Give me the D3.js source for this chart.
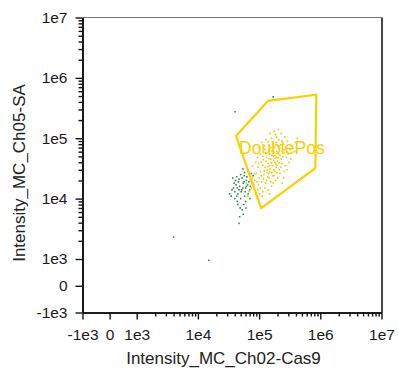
<!DOCTYPE html>
<html>
<head>
<meta charset="utf-8">
<script src="https://cdn.jsdelivr.net/npm/d3@7"></script>
<style>
  body { margin: 0; background: #fff; }
  svg { font-family: "Liberation Sans", Arial, sans-serif; }
</style>
</head>
<body>
<div id="chart-area"></div>
<script>
// gate polygon (data units)
var gateX = [42e3, 140e3, 860e3, 830e3, 108e3];
var gateY = [109e3, 417e3, 525e3, 32e3, 6.95e3];
var gateName = "DoublePos";
var gateLabelAt = [47e3, 55e3];

// events in the gate, [x, y] in thousands
var posEvents = [
  [120,25],[135,30],[150,28],[165,35],[180,40],[140,38],[155,45],[170,50],[190,33],[200,42],
  [210,55],[125,33],[145,22],[160,27],[175,30],[185,47],[195,60],[130,42],[115,36],[105,28],
  [100,22],[110,19],[128,18],[142,26],[158,39],[172,43],[188,37],[205,48],[220,52],[230,45],
  [240,60],[150,55],[165,62],[178,70],[200,75],[215,68],[132,48],[118,44],[96,33],[90,26],
  [85,20],[98,17],[108,24],[122,29],[138,34],[152,31],[168,24],[182,28],[196,36],[212,39],
  [226,33],[245,50],[260,58],[275,70],[250,80],[235,90],[190,85],[170,80],[145,65],[128,58],
  [75,15],[68,13],[82,17],[88,12],[95,14],[72,20],[62,18],[78,23],[92,19],[104,15],
  [115,13],[66,11],[84,26],
  [160,100],[185,115],[210,95],[230,120],[140,88],[120,75],[260,105],[290,90],[175,130],[205,140],
  [150,120],[100,70],[110,85],
  [280,48],[300,55],[320,65],[350,75],[400,85],[310,40],[270,35],[330,45],[290,30],[260,28],
  [380,60],[420,100],[250,22],[240,18],
  [130,95],[165,88],[195,105],[225,78],[255,65],[145,75],[88,40],[95,48],[105,55],[78,35],
  [115,50],[200,22],[220,26],[185,20],[160,16],[140,14],[170,58],[155,70],[215,30],[235,38],
  [125,65],[108,40],[98,38],[180,52],[192,48],[145,46],[162,52],[135,27],[118,21],[148,35],
  [132,20],[155,19],[178,24],[125,15],[112,11],[148,12],[170,18],[196,27],[102,12],[138,23]
];

// events outside the gate, [x, y] in thousands
var negEvents = [
  [52,14],[45,12],[48,16],[55,18],[60,15],[40,13],[42,17],[50,10],[58,11],[62,20],
  [38,15],[46,19],[53,22],[65,17],[70,14],[35,11],[44,9],[56,8],[49,7],[60,9],
  [47,21],[41,20],[57,24],[63,23],[68,19],[72,16],[75,21],[39,18],[36,14],[33,12],
  [51,13],[54,15],[47,14],[43,11],[59,13],[66,12],[61,7],[53,6.5],[45,8],[40,10],
  [78,18],[80,24],[74,26],[58,27],[50,25],[43,23],[37,22],[66,28],[71,10],[55,5.5],
  [48,5],[62,16],[57,19],[44,15],
  [40.5,275],[170,486],[4.0,2.3],[15.1,0.95],[47,3.9],[54.6,31]
];

var xTicks = [-1e3, 0, 1e3, 1e4, 1e5, 1e6, 1e7];
var yTicks = [-1e3, 0, 1e3, 1e4, 1e5, 1e6, 1e7];
var xTitle = "Intensity_MC_Ch02-Cas9";
var yTitle = "Intensity_MC_Ch05-SA";

var W = 399, H = 370;
var plot = { left: 82.5, right: 381.5, top: 17.5, bottom: 312.5 };

// linear around zero, log above 1e3 (logicle-ish)
var LIN = 1e3, K = 0.443;
function tf(v) {
  var a = Math.abs(v);
  return a <= LIN ? K * v / LIN : Math.sign(v) * (K + Math.log10(a / LIN));
}

var x = d3.scaleLinear().domain([tf(-1e3), tf(1e7)]).range([plot.left, plot.right]);
var y = d3.scaleLinear().domain([tf(-1e3), tf(1e7)]).range([plot.bottom, plot.top]);

function fmt(v) {
  if (v === 0) return "0";
  var e = Math.round(Math.log10(Math.abs(v)));
  return (v < 0 ? "-" : "") + "1e" + e;
}

var minors = [];
[1e3, 1e4, 1e5, 1e6].forEach(function (d) {
  for (var k = 2; k <= 9; k++) minors.push(k * d);
});

var svg = d3.select("#chart-area").append("svg")
  .attr("width", W).attr("height", H);

// frame top / right
svg.append("line")
  .attr("x1", plot.left).attr("x2", plot.right)
  .attr("y1", plot.top).attr("y2", plot.top)
  .attr("stroke", "#777").attr("stroke-width", 1);
svg.append("line")
  .attr("x1", plot.right + 0.5).attr("x2", plot.right + 0.5)
  .attr("y1", plot.top).attr("y2", plot.bottom)
  .attr("stroke", "#333").attr("stroke-width", 1.8);

// events
function drawEvents(data, color) {
  svg.append("g").selectAll("rect")
    .data(data)
    .enter().append("rect")
    .attr("x", function (d) { return x(tf(d[0] * 1e3)) - 0.8; })
    .attr("y", function (d) { return y(tf(d[1] * 1e3)) - 0.8; })
    .attr("width", 1.6)
    .attr("height", 1.6)
    .attr("fill", color);
}
drawEvents(negEvents, "#2e8b5e");
drawEvents(posEvents, "#f2c400");

// gate
var gatePts = gateX.map(function (v, i) { return [x(tf(v)), y(tf(gateY[i]))]; });
svg.append("path")
  .attr("d", d3.line()(gatePts) + "Z")
  .attr("fill", "none")
  .attr("stroke", "#fcd000")
  .attr("stroke-width", 2.2)
  .attr("stroke-linejoin", "miter");

svg.append("text")
  .attr("x", x(tf(gateLabelAt[0])))
  .attr("y", y(tf(gateLabelAt[1])))
  .attr("fill", "#f8d000")
  .attr("font-size", 17.5)
  .text(gateName);

// axes
var xAxis = d3.axisBottom(x)
  .tickValues(xTicks.map(tf))
  .tickFormat(function (t, i) { return fmt(xTicks[i]); })
  .tickSize(7).tickPadding(9).tickSizeOuter(0);
var xMinor = d3.axisBottom(x)
  .tickValues(minors.map(tf))
  .tickFormat("")
  .tickSize(4).tickSizeOuter(0);
var yAxis = d3.axisLeft(y)
  .tickValues(yTicks.map(tf))
  .tickFormat(function (t, i) { return fmt(yTicks[i]); })
  .tickSize(7).tickPadding(8).tickSizeOuter(0);
var yMinor = d3.axisLeft(y)
  .tickValues(minors.map(tf))
  .tickFormat("")
  .tickSize(4).tickSizeOuter(0);

function styleAxis(g) {
  g.selectAll(".domain").attr("stroke", "#111").attr("stroke-width", 1.6);
  g.selectAll(".tick line").attr("stroke", "#111").attr("stroke-width", 1.4);
  g.selectAll("text").attr("font-size", 15.5).attr("fill", "#1a1a1a")
    .attr("font-family", "Liberation Sans, Arial, sans-serif");
}

svg.append("g").attr("transform", "translate(0," + plot.bottom + ")").call(xMinor).call(styleAxis);
svg.append("g").attr("transform", "translate(0," + plot.bottom + ")").call(xAxis).call(styleAxis);
svg.append("g").attr("transform", "translate(" + plot.left + ",0)").call(yMinor).call(styleAxis);
svg.append("g").attr("transform", "translate(" + plot.left + ",0)").call(yAxis).call(styleAxis);

// titles
svg.append("text")
  .attr("x", 223.5)
  .attr("y", 364)
  .attr("text-anchor", "middle")
  .attr("font-size", 17)
  .attr("fill", "#222")
  .text(xTitle);

svg.append("text")
  .attr("transform", "translate(25,173) rotate(-90)")
  .attr("text-anchor", "middle")
  .attr("font-size", 17)
  .attr("fill", "#222")
  .text(yTitle);
</script>
</body>
</html>
